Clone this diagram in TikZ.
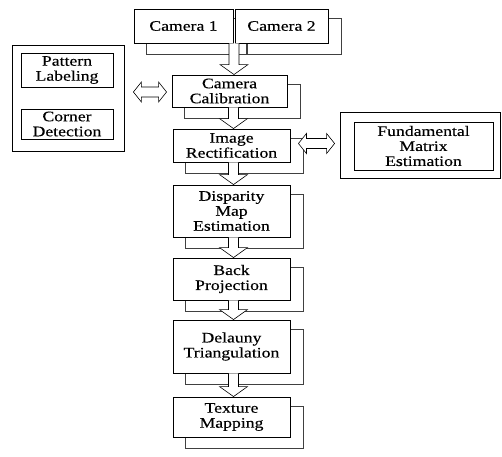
\documentclass[tikz,border=0pt]{standalone}
\usepackage{fontspec}
\setmainfont[FakeStretch=1.22,FakeBold=0.3]{Liberation Serif}
\usetikzlibrary{calc,backgrounds}
\tikzset{
 box/.style={draw=black, fill=white, line width=0.9pt, align=center, inner sep=0pt, font=\fontsize{14.5}{15}\selectfont},
 innerbox/.style={box, line width=0.8pt},
 outerbox/.style={draw=black, fill=white, line width=0.8pt, inner sep=0pt},
 shadowline/.style={draw=black!75, line width=0.6pt},
 blockarr/.style={draw=black, fill=white, line width=0.6pt, line join=miter},
}
\newcommand\blockdown[2]{%
 \draw[blockarr] ($(#1)+(-5,0)$) -- ($(#2)+(-5,-10)$) -- ($(#2)+(-14,-10)$) -- (#2)
   -- ($(#2)+(14,-10)$) -- ($(#2)+(5,-10)$) -- ($(#1)+(5,0)$);}
\newcommand\dblarrow[2]{%
 \draw[blockarr] (#1) -- ($(#1)+(8,-10)$) -- ($(#1)+(8,-5)$) -- ($(#2)+(-8,-5)$) -- ($(#2)+(-8,-10)$)
   -- (#2) -- ($(#2)+(-8,10)$) -- ($(#2)+(-8,5)$) -- ($(#1)+(8,5)$) -- ($(#1)+(8,10)$) -- cycle;}
\newcommand\boxshadow[1]{%
 \draw[shadowline] ($(#1.north west)+(13,10)$) rectangle ($(#1.south east)+(13,11)$);}
\begin{document}
\begin{tikzpicture}[x=1pt,y=-1pt]
\path[use as bounding box, clip] (0,0) rectangle (502,456);
% left group
\node[outerbox, minimum width=112pt, minimum height=106pt] (leftout) at (68,98) {};
\node[innerbox, minimum width=92pt, minimum height=34pt] (pattern) at (67,70) {Pattern\\Labeling};
\node[innerbox, minimum width=92pt, minimum height=30pt] (corner) at (67,124) {Corner\\Detection};
% right group
\node[outerbox, minimum width=160pt, minimum height=66pt] (fundout) at (420,145) {};
\node[innerbox, minimum width=139pt, minimum height=48pt] (fund) at (423.5,146) {Fundamental\\Matrix\\Estimation};
% main column
\node[box, minimum width=99pt, minimum height=34pt] (cam1) at (183.5,26) {Camera 1};
\node[box, minimum width=93pt, minimum height=34pt] (cam2) at (281.5,26) {Camera 2};
\node[box, minimum width=115pt, minimum height=32pt] (calib) at (229.5,91) {Camera\\Calibration};
\node[box, minimum width=117pt, minimum height=33pt] (rect) at (231.5,145.5) {Image\\Rectification};
\node[box, minimum width=117pt, minimum height=52pt] (disp) at (231.5,211) {Disparity\\Map\\Estimation};
\node[box, minimum width=117pt, minimum height=42pt] (back) at (231.5,279) {Back\\Projection};
\node[box, minimum width=117pt, minimum height=53pt] (dela) at (231.5,346.5) {Delauny\\Triangulation};
\node[box, minimum width=117pt, minimum height=40pt] (tex) at (231.5,417) {Texture\\Mapping};
\begin{scope}[on background layer]
 \foreach \n in {cam1,cam2,calib,rect,disp,back,dela,tex} {\boxshadow{\n}}
\end{scope}
% down arrows
\coordinate (s0) at ($(cam1.south east)!0.5!(cam2.south west)$);
\coordinate (t0) at (calib.north -| s0);
\blockdown{s0}{t0}
\coordinate (s1) at ($(calib.south)+(4,0)$);
\coordinate (t1) at (rect.north -| s1);
\blockdown{s1}{t1}
\coordinate (s2) at ($(rect.south)+(2,0)$);
\coordinate (t2) at ($(disp.north)+(2,0)$);
\blockdown{s2}{t2}
\coordinate (s3) at ($(disp.south)+(2,0)$);
\coordinate (t3) at ($(back.north)+(2,0)$);
\blockdown{s3}{t3}
\coordinate (s4) at ($(back.south)+(2,0)$);
\coordinate (t4) at ($(dela.north)+(2,0)$);
\blockdown{s4}{t4}
\coordinate (s5) at ($(dela.south)+(2,0)$);
\coordinate (t5) at ($(tex.north)+(2,0)$);
\blockdown{s5}{t5}
% side double arrows
\coordinate (dl1) at ($(leftout.east |- calib.west)+(9,1)$);
\coordinate (dl2) at ($(calib.west)+(-5,1)$);
\dblarrow{dl1}{dl2}
\coordinate (dr1) at ($(rect.east)+(8,-2)$);
\coordinate (dr2) at ($(fundout.west |- dr1)+(-5,0)$);
\dblarrow{dr1}{dr2}
\end{tikzpicture}
\end{document}
